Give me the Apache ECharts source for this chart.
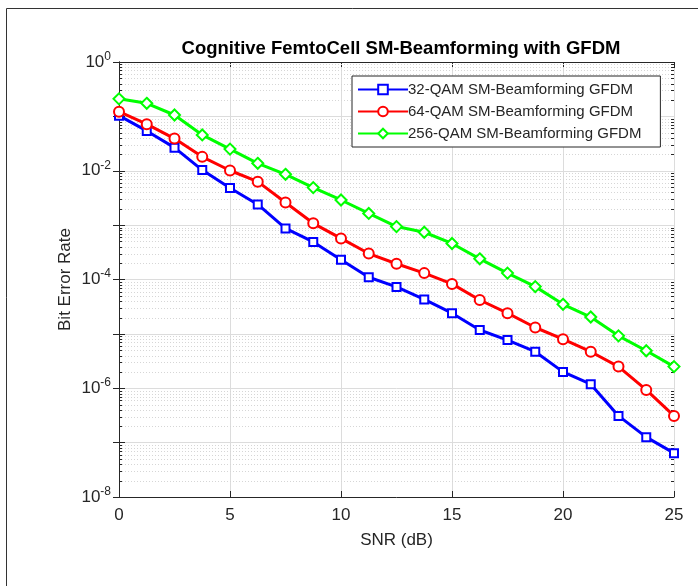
<!DOCTYPE html>
<html><head><meta charset="utf-8">
<script src="https://cdn.jsdelivr.net/npm/echarts@6/dist/echarts.min.js"></script>
<style>html,body{margin:0;padding:0;background:#fff}#c{width:698px;height:586px}</style>
</head><body><div id="c"></div>
<script>
const snr = [0,1.25,2.5,3.75,5,6.25,7.5,8.75,10,11.25,12.5,13.75,15,16.25,17.5,18.75,20,21.25,22.5,23.75,25];
const ber32 = [0.103,0.054,0.0266,0.0103,0.0048,0.0024,8.7e-4,4.9e-4,2.3e-4,1.1e-4,7.3e-5,4.3e-5,2.4e-5,1.18e-5,7.7e-6,4.7e-6,2.0e-6,1.19e-6,3.1e-7,1.26e-7,6.4e-8];
const ber64 = [0.122,0.072,0.039,0.018,0.0101,0.0063,0.0026,0.00108,5.7e-4,3.0e-4,1.95e-4,1.31e-4,8.3e-5,4.2e-5,2.4e-5,1.31e-5,8.0e-6,4.7e-6,2.5e-6,9.3e-7,3.1e-7];
const ber256 = [0.21,0.174,0.106,0.0456,0.025,0.0137,0.0086,0.0049,0.0029,0.00164,9.4e-4,7.4e-4,4.6e-4,2.4e-4,1.31e-4,7.4e-5,3.5e-5,2.04e-5,9.2e-6,4.9e-6,2.5e-6];
const seriesNames = ['32-QAM SM-Beamforming GFDM','64-QAM SM-Beamforming GFDM','256-QAM SM-Beamforming GFDM'];
const xTicks = [0,5,10,15,20,25];
const decades = [-8,-7,-6,-5,-4,-3,-2,-1];

const minorVals = [];
decades.forEach(d => { for (let k = 2; k <= 9; k++) minorVals.push(k * Math.pow(10, d)); });

const font = 'Liberation Sans, Arial, sans-serif';
const chart = echarts.init(document.getElementById('c'));
const axisLine = {lineStyle:{color:'#262626', width:1}};
const tick = {inside:true, length:6, lineStyle:{color:'#262626'}};
function mk(name, data, color, symbol, size){
  return {name, type:'line', data: snr.map((x,i)=>[x,data[i]]), color,
    lineStyle:{width:3,color}, symbol, symbolSize:size, showSymbol:true,
    itemStyle:{color:'#fff', borderColor:color, borderWidth:2}, z:5};
}
chart.setOption({
  animation:false,
  backgroundColor:'#fff',
  title:{text:'Cognitive FemtoCell SM-Beamforming with GFDM', left:396, top:34, textAlign:'center',
    textStyle:{fontFamily:font, fontSize:18.5, fontWeight:'bold', color:'#000'}},
  grid:{left:119, right:24, top:62, bottom:89, containLabel:false},
  legend:{orient:'vertical', left:352, top:76, data:seriesNames, itemWidth:50, itemHeight:12, itemGap:7,
    padding:[6,19,6,5], borderColor:'#262626', borderWidth:1, backgroundColor:'#fff',
    textStyle:{fontFamily:font, fontSize:15, color:'#262626', padding:[0,0,0,-5]}},
  xAxis:[{type:'value', min:0, max:25, interval:5, name:'SNR (dB)', nameLocation:'middle', nameGap:35,
    nameMoveOverlap:false,
    nameTextStyle:{fontFamily:font, fontSize:17, color:'#262626'},
    axisLine, axisTick:tick,
    axisLabel:{fontFamily:font, fontSize:17, color:'#262626', margin:10},
    splitLine:{show:true, lineStyle:{color:'#dcdcdc', width:1}}},
   {type:'value', position:'top', min:0, max:25, interval:5, axisLine, axisTick:tick, axisLabel:{show:false}, splitLine:{show:false}}],
  yAxis:[{type:'log', logBase:10, min:1e-8, max:1, interval:1, name:'Bit Error Rate', nameLocation:'middle', nameGap:45,
    nameMoveOverlap:false,
    nameTextStyle:{fontFamily:font, fontSize:17, color:'#262626'},
    axisLine, axisTick:tick,
    axisLabel:{fontFamily:font, color:'#262626', margin:8, formatter:function(v){
      const e = Math.round(Math.log10(v)); if (e % 2 !== 0) return ''; return '{b|10}{s|' + e + '}'; },
      rich:{b:{fontFamily:font, fontSize:17, color:'#262626'}, s:{fontFamily:font, fontSize:12, color:'#262626', verticalAlign:'bottom', padding:[0,0,11,0]}}},
    splitLine:{show:true, lineStyle:{color:'#dcdcdc', width:1}}},
   {type:'log', logBase:10, position:'right', min:1e-8, max:1, interval:1, axisLine, axisTick:tick, axisLabel:{show:false}, splitLine:{show:false}}],
  series:[
    {name:'minor', type:'custom', silent:true, z:1, data: minorVals.map(v=>[v]),
      encode:{y:0},
      renderItem:function(params, api){
        const v = api.value(0);
        const p1 = api.coord([0, v]);
        const p2 = api.coord([25, v]);
        const ls = {stroke:'#d6d6d6', lineWidth:1, lineDash:[1,2]};
        const ts = {stroke:'#262626', lineWidth:1};
        const y = Math.round(p1[1]) + 0.5;
        return {type:'group', children:[
          {type:'line', shape:{x1:p1[0], y1:y, x2:p2[0], y2:y}, style:ls},
          {type:'line', shape:{x1:p1[0], y1:y, x2:p1[0]+3, y2:y}, style:ts},
          {type:'line', shape:{x1:p2[0]-3, y1:y, x2:p2[0], y2:y}, style:ts}
        ]};
      }},
    mk(seriesNames[0], ber32, '#0000ff', 'rect', 8),
    mk(seriesNames[1], ber64, '#ff0000', 'circle', 10),
    mk(seriesNames[2], ber256, '#00ff00', 'diamond', 11)
  ],
  graphic:[
    {type:'line', shape:{x1:6.5,y1:8.5,x2:698,y2:8.5}, style:{stroke:'#333', lineWidth:1}},
    {type:'line', shape:{x1:6.5,y1:8.5,x2:6.5,y2:586}, style:{stroke:'#333', lineWidth:1}}
  ]
});
</script></body></html>
